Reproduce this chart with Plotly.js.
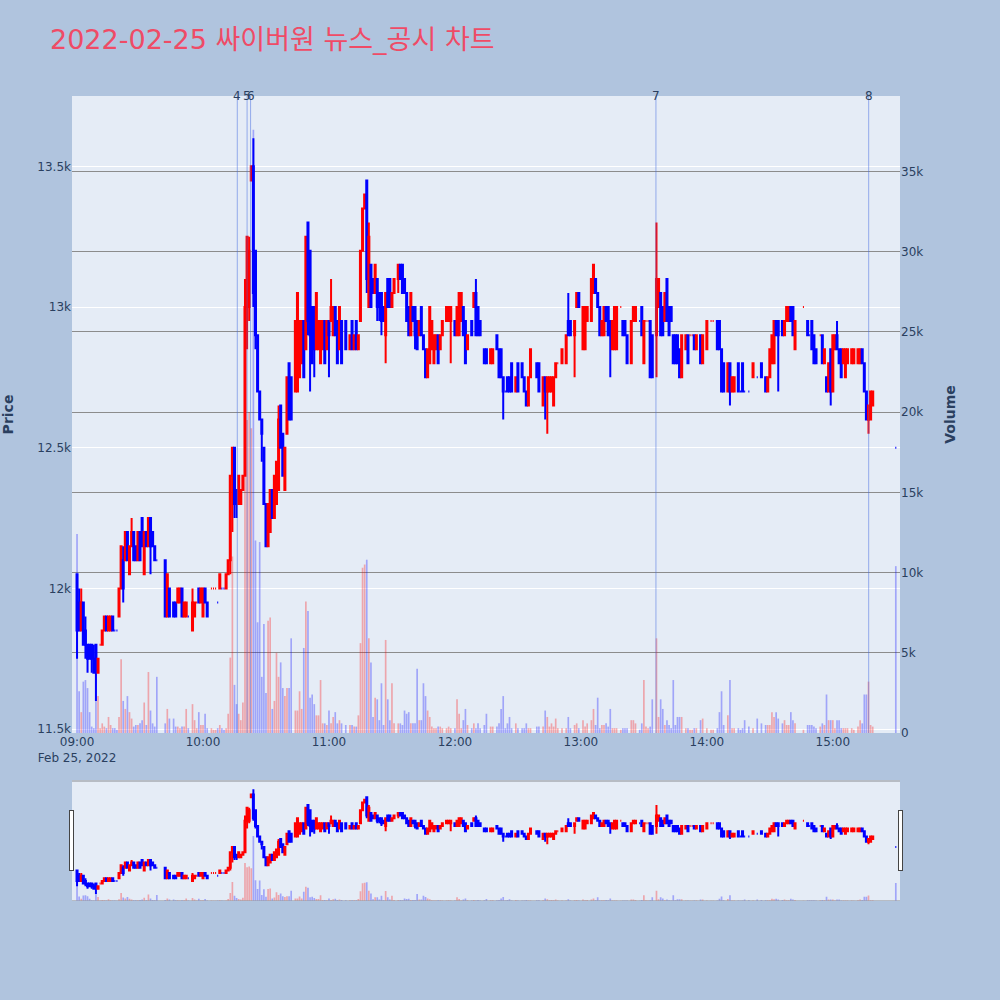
<!DOCTYPE html>
<html>
<head>
<meta charset="utf-8">
<script src="https://cdn.plot.ly/plotly-3.0.1.min.js"></script>
<style>html,body{margin:0;padding:0;background:#b0c4de;}#chart{width:1000px;height:1000px;}</style>
</head>
<body>
<div id="chart"></div>
<script>
const DAY = '2022-02-25 ';
const times = ['09:00','09:01','09:02','09:03','09:04','09:05','09:06','09:07','09:08','09:09','09:10','09:11','09:12','09:13','09:14','09:15','09:16','09:17','09:18','09:19','09:20','09:21','09:22','09:23','09:24','09:25','09:26','09:27','09:28','09:29','09:30','09:31','09:32','09:33','09:34','09:35','09:36','09:37','09:38','09:42','09:43','09:44','09:46','09:47','09:48','09:49','09:50','09:51','09:52','09:53','09:55','09:56','09:57','09:58','09:59','10:00','10:01','10:02','10:04','10:05','10:06','10:07','10:08','10:09','10:10','10:11','10:12','10:13','10:14','10:15','10:16','10:17','10:18','10:19','10:20','10:21','10:22','10:23','10:24','10:25','10:26','10:27','10:28','10:29','10:30','10:31','10:32','10:33','10:34','10:35','10:36','10:37','10:38','10:39','10:40','10:41','10:42','10:44','10:45','10:46','10:47','10:48','10:49','10:50','10:51','10:52','10:53','10:54','10:55','10:56','10:57','10:58','10:59','11:00','11:01','11:02','11:03','11:04','11:05','11:06','11:08','11:10','11:11','11:12','11:13','11:14','11:15','11:16','11:17','11:18','11:19','11:20','11:21','11:22','11:23','11:24','11:25','11:26','11:27','11:28','11:29','11:30','11:31','11:33','11:34','11:35','11:36','11:37','11:38','11:39','11:40','11:41','11:42','11:43','11:44','11:45','11:46','11:47','11:48','11:49','11:50','11:51','11:52','11:53','11:54','11:56','11:57','11:58','12:00','12:01','12:02','12:03','12:04','12:05','12:06','12:08','12:09','12:10','12:11','12:12','12:14','12:15','12:17','12:18','12:20','12:21','12:22','12:23','12:24','12:25','12:26','12:27','12:29','12:30','12:32','12:33','12:34','12:35','12:36','12:39','12:40','12:42','12:43','12:44','12:45','12:46','12:47','12:48','12:49','12:51','12:53','12:54','12:55','12:57','12:58','12:59','13:01','13:02','13:03','13:05','13:06','13:07','13:08','13:09','13:10','13:11','13:12','13:13','13:14','13:15','13:16','13:17','13:19','13:20','13:21','13:22','13:24','13:25','13:26','13:28','13:29','13:30','13:31','13:32','13:33','13:34','13:36','13:37','13:38','13:39','13:40','13:41','13:42','13:43','13:44','13:45','13:46','13:47','13:48','13:50','13:51','13:52','13:53','13:54','13:55','13:57','13:58','14:00','14:02','14:03','14:05','14:06','14:07','14:08','14:10','14:11','14:12','14:13','14:15','14:16','14:17','14:18','14:20','14:22','14:24','14:26','14:28','14:29','14:30','14:31','14:32','14:33','14:34','14:36','14:37','14:38','14:39','14:40','14:41','14:42','14:46','14:48','14:49','14:50','14:51','14:52','14:54','14:55','14:56','14:57','14:58','14:59','15:00','15:01','15:02','15:03','15:04','15:05','15:06','15:07','15:09','15:10','15:12','15:13','15:14','15:15','15:16','15:17','15:18','15:19','15:30'];
const opens = [12050,11950,11850,11950,11850,11800,11800,11800,11750,11800,11700,11800,11800,11850,11900,11850,11850,11900,11850,11850,11900,12000,12100,12100,12200,12050,12150,12200,12150,12100,12200,12250,12050,12200,12150,12250,12200,12150,12100,12100,11900,12000,11950,11950,11950,11950,12000,11900,11900,11900,11850,11900,11950,12000,11950,11900,12000,11950,12000,12000,12000,11950,12000,12000,12000,12000,12050,12100,12400,12500,12350,12300,12300,12350,12400,13000,13000,13450,13500,13200,12900,12700,12600,12500,12300,12150,12200,12350,12250,12300,12350,12650,12550,12350,12550,12800,12750,12700,12700,12750,12800,12950,12850,13300,13200,13000,13000,12850,12850,12800,12850,12950,12850,12950,12950,12900,13000,12950,12850,12950,12950,12850,12950,12850,12950,12850,12950,13200,13350,13450,13000,13150,13100,13050,13100,13050,13050,13000,12900,13100,13100,13000,13050,13100,13150,13150,13100,13050,13000,12900,13000,13000,12950,12900,13000,12900,12850,12750,12800,12850,12800,12850,12900,12850,12900,12950,12950,12950,12950,12900,12900,12950,13000,12950,12850,12950,13000,13050,13000,12950,12850,12850,12800,12800,12900,12850,12850,12750,12700,12750,12750,12800,12700,12800,12800,12750,12700,12650,12750,12800,12800,12650,12750,12700,12700,12700,12650,12750,12800,12800,12800,12950,12950,12900,13000,13050,12850,12850,12950,12950,13050,13100,13050,13000,12900,12900,13000,13000,12950,12850,12850,12850,13000,12950,12950,12900,12800,12950,12950,12950,13000,12800,12950,12950,12950,12900,12900,13000,13050,13000,12950,13100,13000,13000,12900,12900,12900,12850,12750,12850,12900,12900,12900,12900,12850,12900,12800,12850,12950,12950,12950,12950,12850,12800,12700,12800,12700,12700,12800,12700,12800,12700,12700,12750,12750,12800,12750,12700,12750,12800,12800,12950,12950,12950,12900,12950,12950,13000,13000,12850,13000,12950,12900,12950,12900,12850,12900,12900,12800,12750,12700,12850,12700,12850,12900,12850,12850,12800,12750,12800,12800,12800,12800,12800,12850,12800,12700,12600,12600,12650,12500];
const highs = [12050,12000,12000,11950,11900,11800,11800,11800,11800,11800,11750,11800,11850,11900,11900,11900,11900,11900,11850,11850,12000,12150,12150,12200,12200,12150,12250,12200,12150,12200,12200,12250,12200,12200,12250,12250,12200,12150,12100,12100,12050,12000,11950,11950,12000,12000,12000,11950,11950,11900,12000,11950,11950,12000,12000,12000,12000,11950,12000,12000,12000,11950,12050,12000,12000,12050,12100,12400,12500,12500,12350,12400,12350,12400,13100,13250,13250,13500,13600,13200,12900,12700,12600,12500,12300,12300,12350,12350,12400,12450,12650,12650,12550,12500,12750,12800,12750,12950,13050,12950,12950,12950,13250,13300,13200,13000,13000,13050,12950,12950,12950,12950,12950,12950,13100,13000,13000,12950,13000,12950,12950,12900,12950,12900,12950,12900,13200,13350,13400,13450,13300,13150,13100,13150,13100,13050,13050,13000,13050,13100,13100,13050,13100,13150,13150,13150,13100,13050,13000,13050,13000,13000,12950,12950,13000,12900,12850,12850,13000,12950,12900,12900,12900,12900,12950,13000,13000,13000,12950,13000,13050,13050,13000,12950,12900,12950,13050,13100,13000,12950,12850,12850,12850,12850,12900,12850,12850,12750,12700,12750,12750,12800,12750,12800,12800,12750,12700,12750,12850,12800,12800,12750,12750,12750,12750,12750,12750,12800,12800,12850,12900,13050,12950,12950,13050,13050,13000,13000,13000,13100,13150,13100,13050,13000,12950,13000,13000,13000,12950,12950,13000,13000,13000,12950,12950,12900,12950,13000,13000,12950,13000,12950,12950,12950,12950,12900,13300,13100,13050,13000,13050,13100,13000,13000,12900,12900,12900,12850,12900,12900,12900,12900,12900,12900,12900,12900,12900,12950,12950,12950,12950,12950,12850,12800,12800,12800,12750,12750,12800,12700,12800,12700,12700,12800,12750,12800,12750,12750,12850,12900,12950,12950,12950,12950,12950,13000,13000,13000,13000,12950,13000,12950,12900,12950,12900,12850,12900,12900,12850,12750,12800,12850,12900,12900,12950,12850,12850,12850,12850,12850,12850,12850,12850,12850,12850,12800,12700,12650,12700,12700,12500];
const lows = [11750,11850,11850,11800,11750,11700,11750,11700,11700,11600,11700,11800,11800,11850,11850,11850,11850,11850,11850,11850,11900,12000,11950,12100,12100,12050,12150,12100,12100,12100,12100,12150,12050,12150,12150,12050,12150,12100,12100,11900,11900,11900,11900,11900,11950,11950,11900,11900,11900,11900,11850,11900,11950,11950,11950,11900,11950,11900,12000,12000,12000,11950,12000,12000,12000,12000,12050,12050,12200,12250,12250,12300,12300,12350,12400,12850,12950,13450,13000,12850,12700,12600,12450,12300,12150,12150,12200,12250,12250,12300,12350,12500,12400,12350,12550,12600,12600,12700,12700,12750,12800,12750,12850,12900,12700,12800,12750,12850,12850,12800,12850,12800,12850,12750,12950,12900,12900,12800,12850,12800,12850,12850,12850,12850,12850,12850,12950,13200,13350,13050,13000,13000,13050,13050,12950,12950,12900,12950,12800,13000,13000,13000,13050,13050,13100,13050,13050,12950,12900,12900,12950,12850,12850,12900,12900,12850,12750,12750,12800,12850,12800,12850,12800,12850,12900,12950,12950,12800,12900,12900,12900,12950,12900,12800,12850,12900,13000,12900,12900,12900,12800,12800,12800,12800,12850,12750,12750,12600,12700,12700,12700,12700,12700,12700,12750,12700,12650,12650,12750,12750,12700,12650,12600,12550,12700,12700,12650,12750,12800,12800,12800,12900,12900,12750,13000,13000,12850,12850,12950,12950,13050,13050,13000,12900,12900,12900,12950,12900,12750,12850,12850,12850,13000,12900,12900,12800,12800,12950,12950,12950,12900,12800,12950,12950,12750,12750,12750,13000,12900,12900,12950,12950,12900,12950,12800,12800,12800,12750,12750,12850,12800,12900,12900,12850,12850,12800,12800,12850,12950,12950,12850,12850,12700,12700,12700,12650,12700,12700,12700,12700,12700,12700,12700,12750,12750,12750,12700,12700,12750,12800,12800,12900,12700,12900,12900,12950,12950,12950,12900,12850,13000,12900,12900,12850,12800,12800,12900,12800,12800,12700,12700,12650,12700,12850,12850,12800,12750,12800,12750,12800,12800,12800,12800,12800,12800,12700,12600,12550,12600,12650,12500];
const closes = [11850,11850,11950,11800,11800,11750,11750,11750,11700,11750,11750,11800,11850,11900,11850,11900,11900,11850,11850,11850,12000,12150,12000,12200,12100,12150,12200,12100,12100,12200,12100,12150,12200,12150,12250,12150,12150,12100,12100,11900,12050,11900,11900,11900,12000,12000,11900,11950,11950,11900,11950,11950,11950,11950,12000,12000,11950,11900,12000,12000,12000,11950,12050,12000,12000,12050,12100,12400,12500,12300,12300,12400,12350,12400,13000,13250,13200,13500,13050,12900,12700,12600,12550,12300,12150,12300,12350,12250,12400,12450,12600,12500,12400,12500,12750,12600,12600,12950,13050,12950,12950,12750,13250,12950,12900,12800,12850,13050,12950,12950,12950,12800,12950,12900,13000,13000,12900,12800,13000,12800,12850,12900,12850,12900,12850,12900,13200,13350,13400,13100,13250,13000,13050,13150,13000,13000,12950,12950,13050,13000,13000,13050,13100,13150,13100,13050,13050,12950,12900,13050,12950,12900,12850,12950,12900,12850,12750,12850,13000,12950,12900,12900,12800,12900,12950,13000,13000,13000,12900,13000,13050,13050,12900,12800,12900,12900,13050,12900,12900,12900,12800,12800,12850,12850,12850,12750,12750,12700,12700,12700,12700,12700,12750,12700,12750,12700,12650,12750,12850,12750,12700,12750,12700,12750,12750,12750,12750,12800,12800,12850,12900,12900,12900,12950,13050,13000,13000,13000,13000,13100,13150,13050,13000,12900,12950,13000,12950,12900,12900,12950,13000,13000,13000,12900,12900,12800,12950,13000,13000,12950,12900,12950,12950,12950,12750,12750,13100,13100,12900,12900,13050,12950,12900,12950,12800,12800,12800,12750,12900,12900,12800,12900,12900,12850,12900,12800,12900,12950,12950,12950,12850,12850,12700,12700,12800,12700,12750,12750,12700,12700,12700,12700,12700,12800,12750,12750,12700,12750,12850,12900,12950,12900,12900,12900,12950,13000,13000,12950,12900,12950,13000,12900,12900,12850,12800,12800,12900,12800,12850,12700,12800,12700,12900,12900,12850,12800,12750,12850,12850,12850,12850,12850,12850,12850,12800,12700,12600,12650,12700,12700,12500];
const volumes = [12400,2600,1300,3200,3300,2800,1300,400,300,4600,2300,300,600,400,300,1000,500,300,300,200,1000,4600,2000,1500,2300,1300,900,400,500,500,600,800,1900,500,3800,1400,600,400,3500,600,1500,900,900,400,400,300,400,400,1500,300,1800,800,300,1300,500,500,1200,300,300,200,200,300,500,300,200,300,1200,4700,11000,3000,1800,1200,800,1900,22000,19500,20000,19000,37600,12000,6900,11900,3500,6800,2500,7000,7200,1500,2000,5000,3500,4400,2800,2300,2800,2800,5900,1400,1400,2600,1500,5300,8200,7600,2200,2400,1800,1100,1100,3300,600,600,500,1400,600,1000,1300,600,800,600,500,500,500,400,400,1100,5600,10300,10500,10800,5900,4400,1000,2200,2100,800,3100,500,5800,2100,800,3100,600,600,600,500,1400,1200,1300,600,600,600,4000,800,800,3100,2300,1400,1000,400,300,300,400,400,300,300,400,300,300,2100,1200,300,800,1500,500,300,600,300,600,300,500,1200,400,400,400,600,1500,2300,300,600,1000,300,600,300,300,300,600,300,300,400,400,400,1400,1000,400,600,400,900,300,300,300,1000,300,500,600,300,800,400,600,800,1500,500,2200,300,500,500,600,400,1500,300,300,300,200,300,300,300,800,800,600,200,600,3300,400,300,400,2100,5900,1000,2100,1500,500,800,500,300,3300,500,1000,1000,1000,300,300,200,200,300,300,800,900,300,200,200,300,1300,2600,500,1100,3300,300,300,300,200,300,800,400,300,900,600,500,500,500,1300,1000,1300,900,600,800,500,500,1300,800,600,200,500,500,500,400,300,400,600,500,2400,800,800,800,300,800,800,300,300,300,300,300,200,400,800,600,2400,2400,3200,500,400,10400];
const newsLabels = ['4','5','6','7','8'];
const newsTimes = ['10:16:20','10:21:00','10:22:40','13:35:45','15:17:05'];

const x = times.map(t => DAY + t);

// direction of each candle, following plotly's rule for open == close
const dirUp = [];
let prevC = null, up = true;
for (let i = 0; i < closes.length; i++) {
  if (closes[i] === opens[i]) {
    if (prevC !== null && closes[i] !== prevC) up = closes[i] > prevC;
  } else up = closes[i] > opens[i];
  prevC = closes[i];
  dirUp.push(up);
}
const volColors = dirUp.map(u => u ? 'rgba(255,0,0,0.3)' : 'rgba(0,0,255,0.3)');

const candle = {
  type: 'candlestick', x: x, open: opens, high: highs, low: lows, close: closes,
  increasing: {line: {color: '#ff0000'}, fillcolor: '#ff0000'},
  decreasing: {line: {color: '#0000ff'}, fillcolor: '#0000ff'},
  yaxis: 'y', showlegend: false, name: 'Price'
};
const vol = {
  type: 'bar', x: x, y: volumes, marker: {color: volColors, line: {width: 0}},
  yaxis: 'y2', showlegend: false, name: 'Volume'
};

const shapes = newsTimes.map(t => ({
  type: 'line', xref: 'x', yref: 'paper', x0: DAY + t, x1: DAY + t, y0: 0, y1: 1,
  line: {color: 'rgba(65,105,225,0.5)', width: 1}
}));
const annotations = newsTimes.map((t, i) => ({
  x: DAY + t, xref: 'x', y: 1, yref: 'paper', text: newsLabels[i], showarrow: false,
  yanchor: 'middle', font: {size: 12, color: '#2a3f5f'}
}));

const xr = ['2022-02-25 08:57:36', '2022-02-25 15:32:00'];
const layout = {
  width: 1000, height: 1000,
  paper_bgcolor: '#b0c4de', plot_bgcolor: '#E5ECF6',
  margin: {l: 72, r: 100, t: 96, b: 100},
  font: {family: '"DejaVu Sans", "Noto Sans CJK KR", sans-serif', color: '#2a3f5f', size: 12},
  title: {text: '2022-02-25 싸이버원 뉴스_공시 차트', x: 0.05, xanchor: 'left', y: 0.96, yanchor: 'middle',
          font: {size: 27, color: '#EF4B66', family: '"DejaVu Sans", "Noto Sans CJK KR", sans-serif'}},
  xaxis: {type: 'date', range: xr, showgrid: false, zeroline: false, automargin: false,
          rangeslider: {visible: true, thickness: 0.15, bgcolor: '#E5ECF6', range: xr,
                        yaxis: {rangemode: 'fixed', range: [11466, 13779]},
                        yaxis2: {rangemode: 'fixed', range: [0, 70000]}}},
  yaxis: {title: {text: 'Price', font: {size: 14, weight: 'bold'}, standoff: 28}, range: [11486, 13750], gridcolor: 'white',
          zeroline: false, automargin: false},
  yaxis2: {title: {text: 'Volume', font: {size: 14, weight: 'bold'}, standoff: 22}, overlaying: 'y', side: 'right', range: [0, 39700],
           gridcolor: '#8c8c8c', zeroline: false, automargin: false},
  shapes: shapes, annotations: annotations,
  bargap: 0.2
};
Plotly.newPlot('chart', [vol, candle], layout, {displayModeBar: false});
</script>
</body>
</html>
